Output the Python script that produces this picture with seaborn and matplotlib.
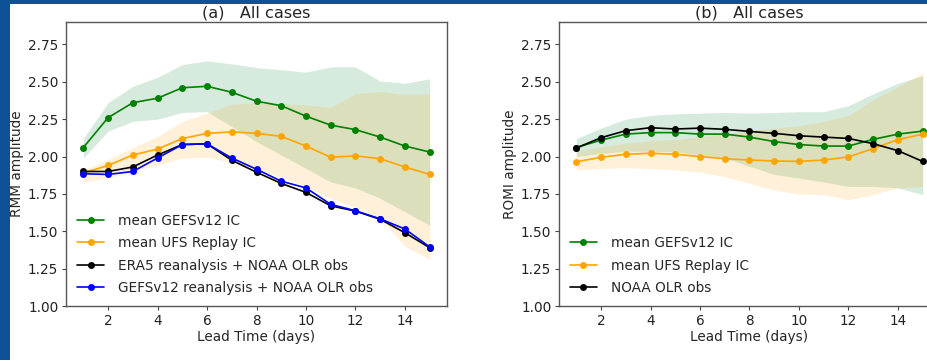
import numpy as np
import pandas as pd
import matplotlib
matplotlib.use("Agg")
import matplotlib.pyplot as plt
from matplotlib.patches import Rectangle
import seaborn as sns

# Lead times (days)
lead_days = list(range(1, 16))

# ---- (a) RMM amplitude ----
rmm_gefs_ic = [2.06, 2.26, 2.36, 2.39, 2.46, 2.47, 2.43, 2.37, 2.34, 2.27, 2.21, 2.18, 2.13, 2.07, 2.03]
rmm_gefs_lo = [1.99, 2.17, 2.235, 2.25, 2.295, 2.30, 2.20, 2.10, 2.01, 1.92, 1.83, 1.79, 1.72, 1.63, 1.54]
rmm_gefs_hi = [2.12, 2.36, 2.47, 2.53, 2.615, 2.64, 2.62, 2.595, 2.58, 2.565, 2.60, 2.60, 2.505, 2.49, 2.52]

rmm_ufs_ic = [1.89, 1.94, 2.01, 2.05, 2.12, 2.155, 2.165, 2.155, 2.135, 2.07, 1.995, 2.005, 1.985, 1.93, 1.88]
rmm_ufs_lo = [1.83, 1.855, 1.90, 1.945, 1.99, 1.995, 1.96, 1.92, 1.86, 1.80, 1.72, 1.66, 1.59, 1.40, 1.31]
rmm_ufs_hi = [1.91, 1.98, 2.06, 2.135, 2.235, 2.29, 2.35, 2.36, 2.355, 2.345, 2.33, 2.42, 2.435, 2.415, 2.42]

rmm_era5 = [1.90, 1.90, 1.93, 2.01, 2.08, 2.085, 1.975, 1.895, 1.82, 1.76, 1.67, 1.635, 1.58, 1.49, 1.39]
rmm_gefs_rean = [1.885, 1.88, 1.90, 1.99, 2.08, 2.085, 1.99, 1.915, 1.835, 1.79, 1.68, 1.637, 1.583, 1.515, 1.395]

# ---- (b) ROMI amplitude ----
romi_gefs_ic = [2.06, 2.11, 2.15, 2.16, 2.16, 2.15, 2.15, 2.13, 2.10, 2.08, 2.07, 2.07, 2.115, 2.15, 2.17]
romi_gefs_lo = [2.00, 2.02, 2.035, 2.035, 2.03, 2.01, 1.99, 1.935, 1.88, 1.855, 1.83, 1.80, 1.80, 1.79, 1.745]
romi_gefs_hi = [2.12, 2.19, 2.25, 2.275, 2.285, 2.29, 2.295, 2.29, 2.295, 2.30, 2.30, 2.34, 2.42, 2.49, 2.54]

romi_ufs_ic = [1.965, 1.995, 2.015, 2.022, 2.015, 2.00, 1.985, 1.977, 1.97, 1.968, 1.976, 1.998, 2.053, 2.113, 2.15]
romi_ufs_lo = [1.91, 1.92, 1.925, 1.92, 1.91, 1.895, 1.865, 1.82, 1.775, 1.75, 1.745, 1.71, 1.745, 1.79, 1.80]
romi_ufs_hi = [2.035, 2.065, 2.09, 2.105, 2.115, 2.13, 2.15, 2.175, 2.19, 2.205, 2.235, 2.275, 2.38, 2.465, 2.56]

romi_noaa = [2.057, 2.126, 2.173, 2.193, 2.184, 2.19, 2.182, 2.168, 2.155, 2.139, 2.13, 2.121, 2.086, 2.039, 1.967]

y_ticks = [1.00, 1.25, 1.50, 1.75, 2.00, 2.25, 2.50, 2.75]

sns.set_style("ticks")
plt.rcParams["font.family"] = ["DejaVu Sans"]

W, H = 928, 360
fig = plt.figure(figsize=(W / 100, H / 100), dpi=100)
fig.patch.set_facecolor("white")

ax_a = fig.add_axes([66 / W, 54 / H, 381 / W, 284 / H])
ax_b = fig.add_axes([559 / W, 54 / H, 381 / W, 284 / H])

line_kw = dict(marker="o", markersize=5, linewidth=1.2, markeredgewidth=0)
FS = 9.8


def draw_series(ax, y, color, label):
    df = pd.DataFrame({"lead": lead_days, "amp": y})
    sns.lineplot(data=df, x="lead", y="amp", ax=ax, color=color,
                 label=label, markeredgecolor=color, **line_kw)


# panel (a)
ax_a.fill_between(lead_days, rmm_gefs_lo, rmm_gefs_hi, color="#3a9a5e", alpha=0.2, linewidth=0)
ax_a.fill_between(lead_days, rmm_ufs_lo, rmm_ufs_hi, color="#ffa500", alpha=0.15, linewidth=0)
draw_series(ax_a, rmm_gefs_ic, "green", "mean GEFSv12 IC")
draw_series(ax_a, rmm_ufs_ic, "orange", "mean UFS Replay IC")
draw_series(ax_a, rmm_era5, "black", "ERA5 reanalysis + NOAA OLR obs")
draw_series(ax_a, rmm_gefs_rean, "blue", "GEFSv12 reanalysis + NOAA OLR obs")
ax_a.set_ylabel("RMM amplitude")
ax_a.set_title("(a)   All cases", fontsize=11.6, pad=3)

# panel (b)
ax_b.fill_between(lead_days, romi_gefs_lo, romi_gefs_hi, color="#3a9a5e", alpha=0.2, linewidth=0)
ax_b.fill_between(lead_days, romi_ufs_lo, romi_ufs_hi, color="#ffa500", alpha=0.15, linewidth=0)
draw_series(ax_b, romi_gefs_ic, "green", "mean GEFSv12 IC")
draw_series(ax_b, romi_ufs_ic, "orange", "mean UFS Replay IC")
draw_series(ax_b, romi_noaa, "black", "NOAA OLR obs")
ax_b.set_ylabel("ROMI amplitude")
ax_b.set_title("(b)   All cases", fontsize=11.6, pad=3)

for ax in (ax_a, ax_b):
    ax.set_xlim(0.3, 15.7)
    ax.set_ylim(1.0, 2.9)
    ax.set_yticks(y_ticks)
    ax.set_yticklabels([f"{v:.2f}" for v in y_ticks])
    ax.set_xticks([2, 4, 6, 8, 10, 12, 14])
    ax.set_xlabel("Lead Time (days)", fontsize=FS, labelpad=1.5)
    ax.yaxis.label.set_size(FS)
    ax.tick_params(labelsize=FS, length=3, width=0.8, color="#444444",
                   labelcolor="#222222", pad=2.5)
    for s in ax.spines.values():
        s.set_visible(True)
        s.set_color("#555555")
        s.set_linewidth(1.0)
    ax.legend(loc="lower left", frameon=False, fontsize=FS,
              handlelength=2.0, handletextpad=1.0, labelspacing=0.62,
              borderaxespad=0.4)
    ax.yaxis.set_label_coords(-0.1115, 0.5)

# blue frame along the left and top edges
frame_color = "#0f5197"
fig.patches.append(Rectangle((0, 0), 10 / W, 1, transform=fig.transFigure,
                             facecolor=frame_color, edgecolor="none", zorder=10))
fig.patches.append(Rectangle((0, 1 - 4 / H), 1, 4 / H, transform=fig.transFigure,
                             facecolor=frame_color, edgecolor="none", zorder=10))

fig.savefig("out.png", dpi=100)
